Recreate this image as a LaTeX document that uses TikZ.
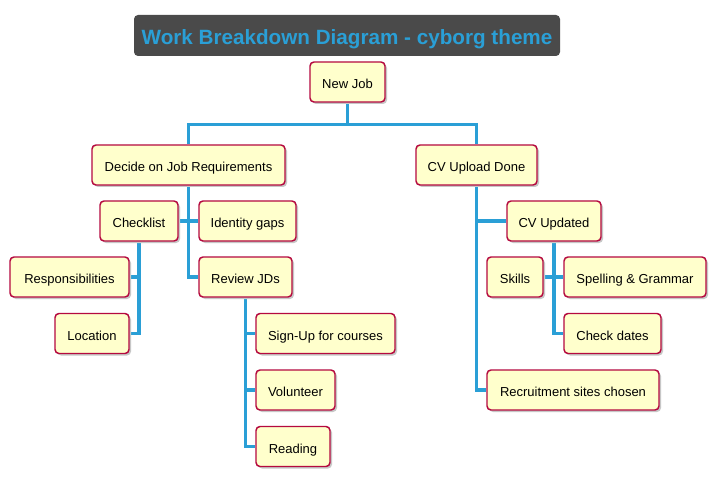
\documentclass[tikz,border=0pt]{standalone}
\usepackage{fontspec}
\setmainfont{Liberation Sans}
\usetikzlibrary{backgrounds,shadows}
\definecolor{boxfill}{HTML}{FFFFCC}
\definecolor{boxline}{HTML}{B5093F}
\definecolor{conn}{HTML}{2A9FD6}
\definecolor{titlebg}{HTML}{4A4A4A}
\begin{document}
\begin{tikzpicture}[x=0.75pt,y=-0.75pt,
  item/.style={draw=boxline,fill=boxfill,line width=1.1pt,rounded corners=3pt,
    minimum height=30pt,inner sep=0pt,text height=10pt,text depth=0pt,
    font=\fontsize{9.75pt}{11pt}\selectfont,
    drop shadow={shadow xshift=1.5pt,shadow yshift=-1.5pt,fill=black!22,opacity=1}},
  conline/.style={draw=conn,line width=2.3pt}]
\useasboundingbox (0,0) rectangle (716,477);
\node[fill=titlebg,rounded corners=3pt,minimum width=319.5pt,minimum height=30.75pt,inner sep=0pt,
  text height=12.8pt,text depth=0pt,
  text=conn,font=\fontsize{15.5pt}{18pt}\selectfont\bfseries] (title) at (347,35.5) {Work Breakdown Diagram - cyborg theme};
\node[item,minimum width=56.25pt] (newjob) at (347.5,82) {New Job};
\node[item,minimum width=144.75pt] (decide) at (188.5,165) {Decide on Job Requirements};
\node[item,minimum width=90.75pt] (cvupload) at (476.5,165) {CV Upload Done};
\node[item,minimum width=58.5pt] (checklist) at (139,221) {Checklist};
\node[item,minimum width=72.75pt] (identity) at (247.5,221) {Identity gaps};
\node[item,minimum width=69.75pt] (review) at (245.5,277) {Review JDs};
\node[item,minimum width=89.25pt] (resp) at (69.5,277) {Responsibilities};
\node[item,minimum width=55.5pt] (location) at (92,333.5) {Location};
\node[item,minimum width=104.25pt] (signup) at (325.5,333.5) {Sign-Up for courses};
\node[item,minimum width=59.25pt] (volunteer) at (295.5,390) {Volunteer};
\node[item,minimum width=55.5pt] (reading) at (293,446.5) {Reading};
\node[item,minimum width=70.5pt] (cvupdated) at (554,221) {CV Updated};
\node[item,minimum width=42pt] (skills) at (515,277) {Skills};
\node[item,minimum width=106.5pt] (spelling) at (635,277) {Spelling \& Grammar};
\node[item,minimum width=72.75pt] (checkdates) at (612.5,333.5) {Check dates};
\node[item,minimum width=129pt] (recruit) at (573,390) {Recruitment sites chosen};
\coordinate (bus) at (347.5,124.5);
\begin{scope}[on background layer]
\fill[white] (0,0) rectangle (716,477);
\draw[conline] (newjob.south) -- (bus);
\draw[conline] (decide.north) |- (bus) -| (cvupload.north);
\draw[conline] (decide.south) |- (review.west);
\draw[conline] (checklist.east) -- (identity.west);
\draw[conline] (checklist.south) |- (location.east);
\draw[conline] (checklist.south |- resp.east) -- (resp.east);
\draw[conline] (review.south) |- (reading.west);
\draw[conline] (review.south |- signup.west) -- (signup.west);
\draw[conline] (review.south |- volunteer.west) -- (volunteer.west);
\draw[conline] (cvupload.south) |- (recruit.west);
\draw[conline] (cvupload.south |- cvupdated.west) -- (cvupdated.west);
\draw[conline] (cvupdated.south) |- (checkdates.west);
\draw[conline] (skills.east) -- (spelling.west);
\end{scope}
\end{tikzpicture}
\end{document}
